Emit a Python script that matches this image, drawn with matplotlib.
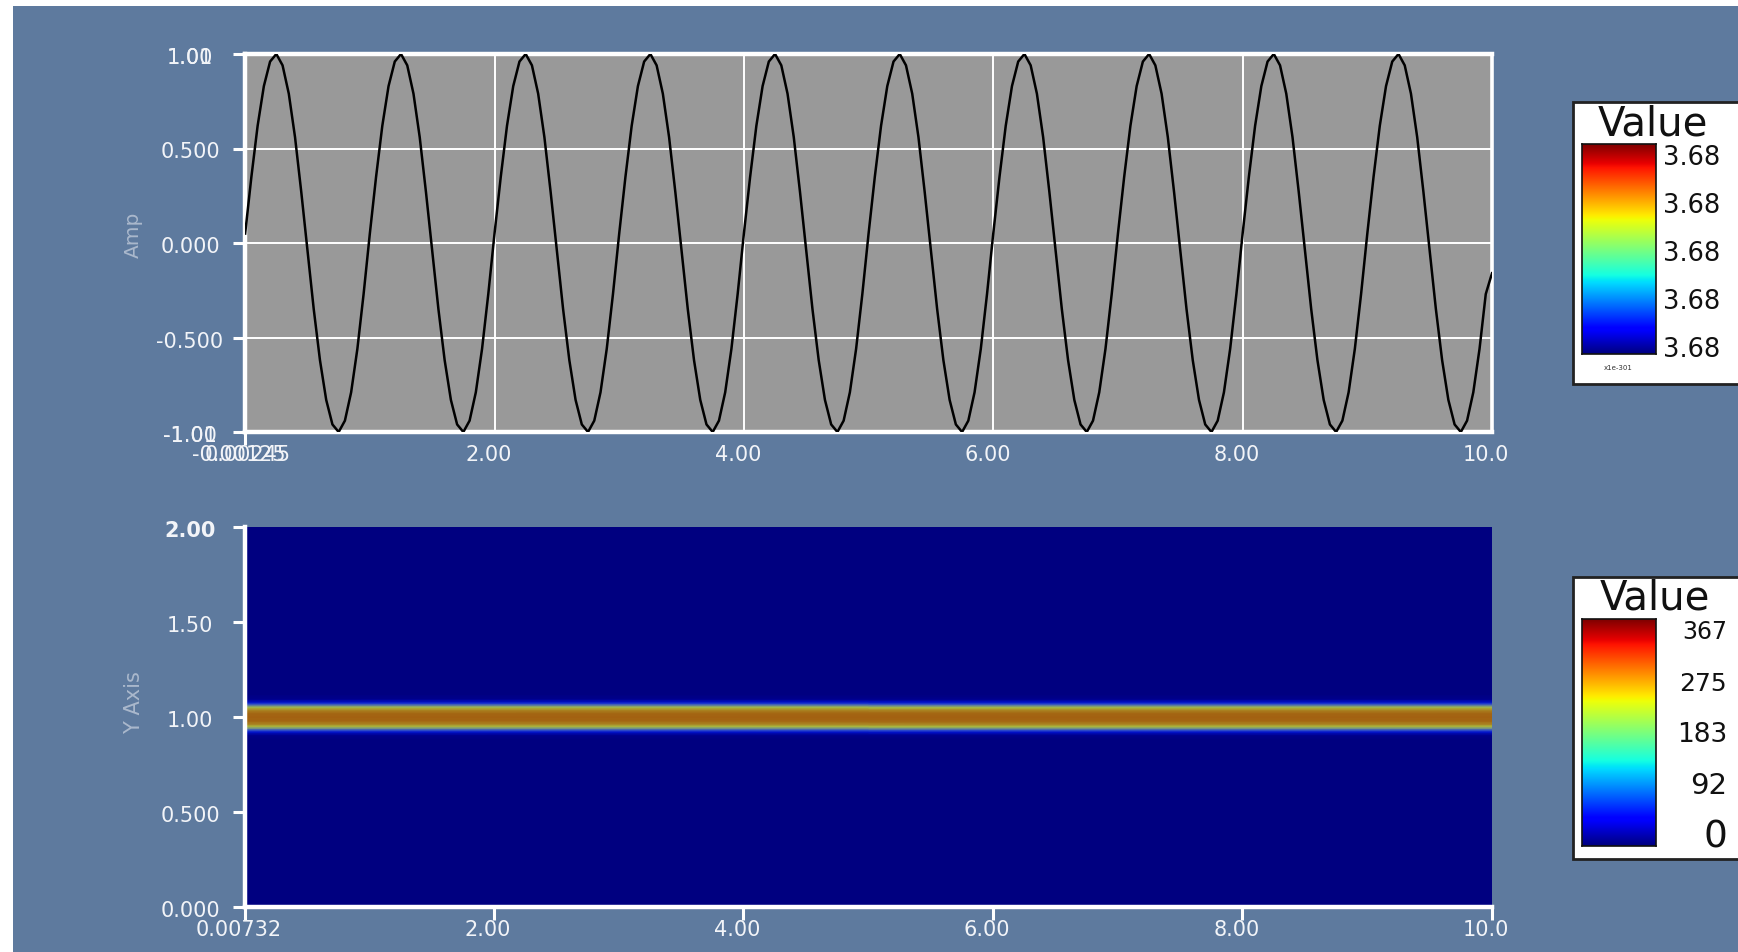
import numpy as np
import matplotlib
matplotlib.use("Agg")
import matplotlib.pyplot as plt
from matplotlib.colors import LinearSegmentedColormap
from matplotlib.patches import Rectangle
from matplotlib.transforms import blended_transform_factory, offset_copy

# ---------------- data ----------------
amp_cycle = [0.05, 0.35, 0.62, 0.83, 0.96, 1.00, 0.94, 0.79, 0.56, 0.27,
             -0.04, -0.35, -0.62, -0.83, -0.96, -1.00, -0.94, -0.79, -0.56, -0.27]
amp_step = 0.05
amp_cycles = 10
amp_end = -0.16

top_xticks = [-0.00125, 2.0, 4.0, 6.0, 8.0, 10.0]
top_xlabels = ["-0.00125", "2.00", "4.00", "6.00", "8.00", "10.0"]
top_yticks = [-1.0, -0.5, 0.0, 0.5, 1.0]
top_ylabels = ["-1.00", "-0.500", "0.000", "0.500", "1.00"]

band_y = [0.0, 0.88, 0.905, 0.92, 0.93, 0.94, 0.95, 0.963, 0.98, 1.0,
          1.02, 1.037, 1.05, 1.06, 1.07, 1.08, 1.095, 1.12, 2.0]
band_val = [0, 0, 10, 40, 90, 160, 220, 265, 292, 300,
            292, 265, 220, 160, 90, 40, 10, 0, 0]
band_x = [0.00732, 10.0]

bot_xticks = [0.00732, 2.0, 4.0, 6.0, 8.0, 10.0]
bot_xlabels = ["0.00732", "2.00", "4.00", "6.00", "8.00", "10.0"]
bot_yticks = [0.0, 0.5, 1.0, 1.5, 2.0]
bot_ylabels = ["0.000", "0.500", "1.00", "1.50", "2.00"]

cbar_top_labels = ["3.68", "3.68", "3.68", "3.68", "3.68"]
cbar_top_exp = "x1e-301"
cbar_bot_ticks = [0, 92, 183, 275, 367]
cbar_bot_max = 367

# ---------------- figure ----------------
W, H = 1738, 953
DPI = 100
BG = "#5e7a9e"
TXT = "#f2f4f8"
LBL = "#aab8cc"

fig = plt.figure(figsize=(W / DPI, H / DPI), dpi=DPI, facecolor="white")
fig.patches.append(Rectangle((13 / W, 0), 1, (H - 7) / H, transform=fig.transFigure,
                             facecolor=BG, edgecolor="none", zorder=-10))


def fx(px):
    return px / W


def fy(py):
    return 1 - py / H


# ---------- top axes ----------
ax1 = fig.add_axes([fx(245), fy(433), fx(1492) - fx(245), fy(55) - fy(433)])
ax1.set_facecolor("#999999")
amp = np.concatenate([np.tile(amp_cycle, amp_cycles), [amp_end]])
t = np.arange(len(amp)) * amp_step
ax1.plot(t, amp, color="black", lw=1.8, zorder=3)
ax1.set_xlim(top_xticks[0], top_xticks[-1])
ax1.set_ylim(top_yticks[0], top_yticks[-1])
for v in top_xticks[1:-1]:
    ax1.axvline(v, color="white", lw=1.4, zorder=2)
for v in top_yticks[1:-1]:
    ax1.axhline(v, color="white", lw=1.4, zorder=2)
for s in ax1.spines.values():
    s.set_color("white")
    s.set_linewidth(3.2)
ax1.spines["right"].set_linewidth(2.6)
ax1.set_xticks([top_xticks[0]])
ax1.set_yticks(top_yticks)
ax1.tick_params(direction="out", length=9, width=2.2, color="white",
                labelleft=False, labelbottom=False)

# ---------- bottom axes ----------
ax2 = fig.add_axes([fx(245), fy(908), fx(1492) - fx(245), fy(528) - fy(908)])
band_cmap = LinearSegmentedColormap.from_list("band", [
    (0.00, (0 / 255, 0 / 255, 128 / 255)),
    (0.04, (0 / 255, 0 / 255, 150 / 255)),
    (0.14, (0 / 255, 25 / 255, 225 / 255)),
    (0.32, (70 / 255, 100 / 255, 190 / 255)),
    (0.46, (120 / 255, 150 / 255, 130 / 255)),
    (0.60, (168 / 255, 186 / 255, 66 / 255)),
    (0.70, (172 / 255, 140 / 255, 38 / 255)),
    (0.80, (164 / 255, 102 / 255, 18 / 255)),
    (1.00, (150 / 255, 50 / 255, 10 / 255)),
])
C = np.tile(np.array(band_val, dtype=float)[:, None], (1, len(band_x)))
ax2.pcolormesh(band_x, band_y, C, shading="gouraud", cmap=band_cmap,
               vmin=0, vmax=cbar_bot_max, zorder=1)
ax2.set_xlim(bot_xticks[0], bot_xticks[-1])
ax2.set_ylim(bot_yticks[0], bot_yticks[-1])
ax2.set_facecolor("#000080")
for k in ["top", "right"]:
    ax2.spines[k].set_visible(False)
for k in ["left", "bottom"]:
    ax2.spines[k].set_color("white")
    ax2.spines[k].set_linewidth(3.2)
ax2.set_xticks(bot_xticks)
ax2.set_yticks(bot_yticks)
ax2.tick_params(direction="out", length=9, width=2.2, color="white",
                labelleft=False, labelbottom=False)

# ---------- tick labels (manual, VTK-like) ----------
TFS = 15


def ylabels(ax, ticks, labels, bold_last=False):
    tr = blended_transform_factory(fig.transFigure, ax.transData)
    tr = offset_copy(tr, fig=fig, x=0, y=-3, units="dots")
    for i, (v, l) in enumerate(zip(ticks, labels)):
        w = "bold" if (bold_last and i == len(ticks) - 1) else "normal"
        ax.text(fx(190), v, l, transform=tr, ha="center", va="center",
                color=TXT, fontsize=TFS, fontweight=w, clip_on=False)


def xlabels(ax, ticks, labels, ypx):
    tr = blended_transform_factory(ax.transData, fig.transFigure)
    tr = offset_copy(tr, fig=fig, x=-6, y=0, units="dots")
    for v, l in zip(ticks, labels):
        ax.text(v, fy(ypx), l, transform=tr, ha="center", va="center",
                color=TXT, fontsize=TFS, clip_on=False)


ylabels(ax1, top_yticks, top_ylabels)
xlabels(ax1, top_xticks, top_xlabels, 455)
ylabels(ax2, bot_yticks, bot_ylabels, bold_last=True)
xlabels(ax2, bot_xticks, bot_xlabels, 930)

# overlapping duplicate labels seen in the reference
trY1 = offset_copy(blended_transform_factory(fig.transFigure, ax1.transData),
                   fig=fig, x=0, y=-3, units="dots")
ax1.text(fx(190), top_yticks[-1], "1.01", transform=trY1, ha="center", va="center",
         color=TXT, fontsize=TFS, clip_on=False)
ax1.text(fx(190), top_yticks[0], "-1.01", transform=trY1, ha="center", va="center",
         color=TXT, fontsize=TFS, clip_on=False)
trX1 = offset_copy(blended_transform_factory(ax1.transData, fig.transFigure),
                   fig=fig, x=3, y=0, units="dots")
ax1.text(top_xticks[0], fy(455), "0.00245", transform=trX1, ha="center", va="center",
         color=TXT, fontsize=TFS, clip_on=False)

# axis titles
fig.text(fx(133), fy(235), "Amp", rotation=90, ha="center", va="center",
         color=LBL, fontsize=14.5)
fig.text(fx(134), fy(703), "Y Axis", rotation=90, ha="center", va="center",
         color=LBL, fontsize=15)

# ---------- scalar bars ----------
jet = plt.get_cmap("jet")
grad = np.linspace(0, 1, 256)[:, None]
BAR_L, BAR_R = 1582, 1656


def scalar_bar(box_top, box_bot, bar_top, bar_bot):
    fig.patches.append(Rectangle((fx(1573), fy(box_bot)), fx(1760) - fx(1573),
                                 fy(box_top) - fy(box_bot), transform=fig.transFigure,
                                 facecolor="white", edgecolor="#222222", lw=2, zorder=1))
    cax = fig.add_axes([fx(BAR_L), fy(bar_bot), fx(BAR_R) - fx(BAR_L), fy(bar_top) - fy(bar_bot)])
    cax.set_zorder(5)
    cax.imshow(grad, aspect="auto", cmap=jet, origin="lower", extent=[0, 1, 0, 1])
    cax.set_xticks([])
    cax.set_yticks([])
    for s in cax.spines.values():
        s.set_color("#111111")
        s.set_linewidth(1.2)
    return cax


cax1 = scalar_bar(103, 385, 145, 355)
fig.text(fx(1653), fy(136), "Value", ha="center", va="baseline", fontsize=29,
         color="#111111", zorder=6)
n = len(cbar_top_labels)
for i, l in enumerate(cbar_top_labels):
    frac = 0.025 + (0.94 - 0.025) * i / (n - 1)
    cax1.text((1663 - BAR_L) / (BAR_R - BAR_L), frac, l, transform=cax1.transAxes,
              ha="left", va="center", fontsize=18.5, color="#111111", clip_on=False)
fig.text(fx(1618), fy(368), cbar_top_exp, ha="center", va="center", fontsize=5,
         color="#333333", zorder=6)

cax2 = scalar_bar(578, 860, 620, 847)
fig.text(fx(1655), fy(610), "Value", ha="center", va="baseline", fontsize=29,
         color="#111111", zorder=6)
bot_sizes = [27, 21, 19, 18, 17]
for v, fs in zip(cbar_bot_ticks, bot_sizes):
    frac = 0.040 + 0.905 * v / cbar_bot_max
    cax2.text((1727 - BAR_L) / (BAR_R - BAR_L), frac, str(v), transform=cax2.transAxes,
              ha="right", va="center", fontsize=fs, color="#111111", clip_on=False)

fig.savefig("out.png", dpi=DPI, facecolor=fig.get_facecolor())
